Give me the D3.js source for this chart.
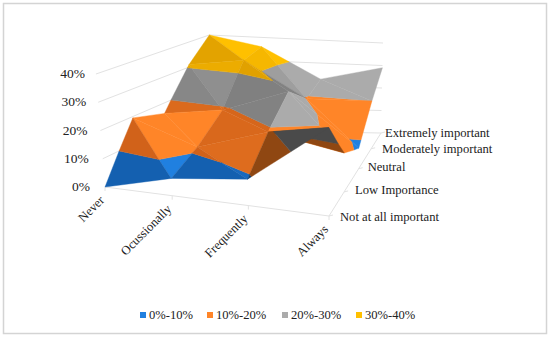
<!DOCTYPE html>
<html>
<head>
<meta charset="utf-8">
<title>Surface chart</title>
<script src="https://cdn.jsdelivr.net/npm/d3@7"></script>
<style>
  html, body { margin: 0; padding: 0; background: #fff; }
  svg { display: block; }
  text { font-family: "Liberation Serif", serif; font-size: 12.6px; fill: #222; }
  .value-label { font-size: 13.5px; }
</style>
</head>
<body>
<svg id="chart" width="550" height="338"></svg>
<script>
var frequency = ['Never', 'Ocussionally', 'Frequently', 'Always'];
var importance = ['Not at all important', 'Low Importance', 'Neutral', 'Moderately important', 'Extremely important'];
var valueTicks = [0, 10, 20, 30, 40];

// one row of percentages per importance level, in frequency order
var notAtAll = [0, 6, 9, 29.5];
var lowImportance = [19.5, 11, 19, 14];
var neutral = [16, 19, 28, 8];
var moderately = [31, 34, 19.5, 20];
var extremely = [40, 36, 23, 29];
var rows = [notAtAll, lowImportance, neutral, moderately, extremely];

var bandLabels = ['0%-10%', '10%-20%', '20%-30%', '30%-40%'];
var bandLow = [0, 10, 20, 30];
var bandLight = ['#2080e0', '#ff8528', '#ababab', '#ffc000'];
var bandDark = ['#135cab', '#cc5e18', '#787878', '#dc9c00'];
var bandUnder = ['#0d3f75', '#8f4712', '#4a4a4a', '#7f6000'];

// how lit each facet is, per grid cell [front triangle, back triangle], null is the underside
var facetLight = [
    [[0.1, 1], [0.1, 0.35], [null, null]],
    [[1, 1], [0.25, 0.2], [1, 1]],
    [[0.3, 0.45], [0.15, 0.2], [1, 1]],
    [[0.2, 1], [0.75, 1], [1, 1]]
];

var svg = d3.select('#chart');

// axis steps get wider towards the viewer, so the scales are not evenly spaced
var uScale = d3.scaleOrdinal().domain(d3.range(frequency.length)).range([0, 0.3, 0.64, 1]);
var vScale = d3.scaleOrdinal().domain(d3.range(importance.length)).range([0, 0.29, 0.57, 0.81, 1]);
var zScale = d3.scaleLinear().domain([0, 40]);

// plot box corners: front left, front right, back right, back left
var floor = [[105, 187], [329, 216], [381, 133], [214, 130]];
var heightAt40 = [113, 120, 90, 95];

function mix(c, u, v) {
    return (c[0] * (1 - u) + c[1] * u) * (1 - v) + (c[3] * (1 - u) + c[2] * u) * v;
}

function point3d(u, v, z) {
    var x = mix(floor.map(function(p) { return p[0]; }), u, v),
        y = mix(floor.map(function(p) { return p[1]; }), u, v),
        lift = zScale.range([0, mix(heightAt40, u, v)])(z);
    return [x + (x - 331) * 0.04 * z / 40, y - lift];
}

function lineGen(pts) {
    return d3.line()(pts);
}

// chart frame
svg.append('rect')
    .attr('x', 3.5).attr('y', 3.5).attr('width', 543).attr('height', 330)
    .attr('fill', 'none').attr('stroke', '#d4d4d4').attr('stroke-width', 1.5);

// gridlines on the left and back walls
var grid = svg.append('g').attr('fill', 'none').attr('stroke', '#e2e2e2').attr('stroke-width', 1);
valueTicks.forEach(function(t) {
    if (t > 0) {
        grid.append('path').attr('d', lineGen([point3d(0, 0, t), point3d(0, 1, t)]));
    }
    grid.append('path').attr('d', lineGen([point3d(0, 1, t), point3d(1, 1, t)]));
});
grid.append('path').attr('d', lineGen([point3d(0, 0, 0), point3d(1, 0, 0)]));
grid.append('path').attr('d', lineGen([point3d(1, 0, 0), point3d(1, 1, 0)]));
frequency.forEach(function(f, i) {
    var p = point3d(uScale(i), 0, 0);
    grid.append('path').attr('d', lineGen([p, [p[0], p[1] + 4]]));
});
importance.forEach(function(f, j) {
    var p = point3d(1, vScale(j), 0);
    grid.append('path').attr('d', lineGen([p, [p[0] + 4, p[1] - 1]]));
});

// keep the part of a triangle that is on one side of a level
function clipLevel(poly, level, keepAbove) {
    var out = [];
    poly.forEach(function(a, k) {
        var b = poly[(k + 1) % poly.length],
            ina = keepAbove ? a[2] >= level : a[2] <= level,
            inb = keepAbove ? b[2] >= level : b[2] <= level;
        if (ina) {
            out.push(a);
        }
        if (ina !== inb) {
            var t = (level - a[2]) / (b[2] - a[2]);
            out.push([a[0] + t * (b[0] - a[0]), a[1] + t * (b[1] - a[1]), level]);
        }
    });
    return out;
}

function drawTriangle(layer, tri, light) {
    bandLow.forEach(function(low, b) {
        var part = clipLevel(clipLevel(tri, low, true), low + 10, false);
        if (part.length < 3) {
            return;
        }
        var col = light === null ? bandUnder[b] : d3.interpolateRgb(bandDark[b], bandLight[b])(light);
        layer.append('path')
            .attr('d', lineGen(part.map(function(p) { return point3d(p[0], p[1], p[2]); })) + 'Z')
            .attr('fill', col)
            .attr('stroke', col)
            .attr('stroke-width', 0.4);
    });
}

// back rows first, then left to right, so nearer facets paint over
var surface = svg.append('g');
for (var j = importance.length - 2; j >= 0; j--) {
    for (var i = 0; i < frequency.length - 1; i++) {
        var p00 = [uScale(i), vScale(j), rows[j][i]],
            p10 = [uScale(i + 1), vScale(j), rows[j][i + 1]],
            p01 = [uScale(i), vScale(j + 1), rows[j + 1][i]],
            p11 = [uScale(i + 1), vScale(j + 1), rows[j + 1][i + 1]];
        drawTriangle(surface, [p10, p11, p01], facetLight[j][i][1]);
        drawTriangle(surface, [p00, p10, p01], facetLight[j][i][0]);
    }
}

// value axis labels
var labelRight = d3.scaleLinear().domain([0, 40]).range([90, 85]);
valueTicks.forEach(function(t) {
    var p = point3d(0, 0, t);
    svg.append('text')
        .attr('class', 'value-label')
        .attr('x', labelRight(t))
        .attr('y', p[1] + 4)
        .attr('text-anchor', 'end')
        .text(t + '%');
});

// frequency labels, rotated and ending at the ticks
frequency.forEach(function(f, i) {
    var p = point3d(uScale(i), 0, 0);
    svg.append('text')
        .attr('transform', 'translate(' + p[0] + ',' + (p[1] + 14) + ') rotate(-45)')
        .attr('text-anchor', 'end')
        .text(f);
});

// importance labels, the text does not follow the axis exactly
var importanceNudgeX = [11, 11, 9, 11, 4];
var importanceNudgeY = [5, 2, 2, 4, 4];
importance.forEach(function(f, j) {
    var p = point3d(1, vScale(j), 0);
    svg.append('text')
        .attr('x', p[0] + importanceNudgeX[j])
        .attr('y', p[1] + importanceNudgeY[j])
        .text(f);
});

// legend
var legendX = d3.scaleOrdinal().domain(bandLabels).range([140, 207, 282, 356]);
bandLabels.forEach(function(l, b) {
    svg.append('rect')
        .attr('x', legendX(l))
        .attr('y', 312)
        .attr('width', 6)
        .attr('height', 6)
        .attr('fill', bandLight[b]);
    svg.append('text')
        .attr('x', legendX(l) + 9)
        .attr('y', 319)
        .text(l);
});
</script>
</body>
</html>
